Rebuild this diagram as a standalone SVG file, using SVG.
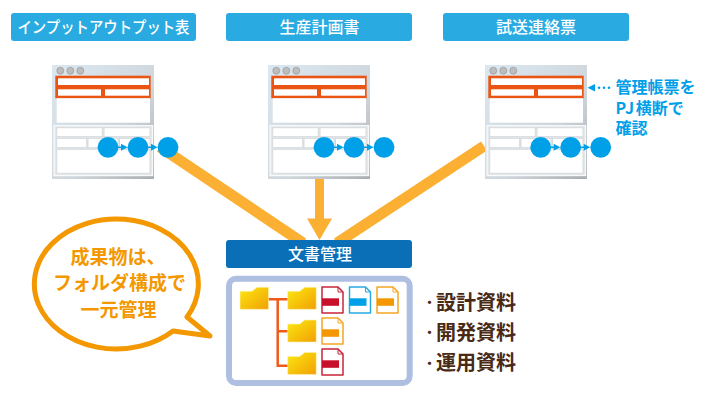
<svg xmlns="http://www.w3.org/2000/svg" xmlns:xlink="http://www.w3.org/1999/xlink" width="720" height="400" viewBox="0 0 720 400">
<style>
text{font-family:"Noto Sans CJK JP","Liberation Sans",sans-serif;font-weight:700}
.hd{fill:#fff;font-size:16px;text-anchor:middle;font-weight:500}
.blue{fill:#29abe2}
.lab{fill:#00a0e9;font-size:16px}
.or{fill:#f39800;font-size:19px;text-anchor:middle}
.blk{fill:#4a2a14;font-size:20px}
.bul{font-size:13px}
.dot{fill:#00a0e9}
.ln{fill:none;stroke:#f05a1a;stroke-width:2.500}
.w{fill:#fff}
.cell{fill:#fff;stroke:#d5dadd;stroke-width:1}
.ar{fill:none;stroke:#fbb034}
</style>
<defs>
<linearGradient id="g" x1="0" y1="0" x2="1" y2="1"><stop offset="0" stop-color="#dbe8f2"/><stop offset=".6" stop-color="#cfd6db"/><stop offset="1" stop-color="#a9adb0"/></linearGradient>
<linearGradient id="f" x1="0" y1="0" x2="1" y2="1"><stop offset="0" stop-color="#fbe90f"/><stop offset="1" stop-color="#f29f05"/></linearGradient>
<g id="win">
<rect x="0" y="0" width="102" height="114" fill="url(#g)"/>
<circle cx="8.300" cy="5.700" r="3.500" fill="#bdbdbd" stroke="#999" stroke-width=".7"/>
<circle cx="18.300" cy="5.700" r="3.500" fill="#bdbdbd" stroke="#999" stroke-width=".7"/>
<circle cx="28.300" cy="5.700" r="3.500" fill="#bdbdbd" stroke="#999" stroke-width=".7"/>
<rect x="3.300" y="10.700" width="95.400" height="22.600" fill="#ea5514"/>
<rect x="6" y="13.300" width="91" height="6.700" class="w"/>
<rect x="6" y="24.300" width="43" height="6.400" class="w"/>
<rect x="53" y="24.300" width="44" height="6.400" class="w"/>
<rect x="4.700" y="33.300" width="93.300" height="24.400" class="w"/>
<rect x="2" y="60.700" width="98.700" height="50" fill="#e4e8ea" stroke="#fff" stroke-width="1"/>
<rect x="4.700" y="62.700" width="45.600" height="9" class="cell"/>
<rect x="52" y="62.700" width="46" height="9" class="cell"/>
<rect x="4.700" y="73.300" width="30" height="9.400" class="cell"/>
<rect x="36" y="73.300" width="30" height="9.400" class="cell"/>
<rect x="67.500" y="73.300" width="30.500" height="9.400" class="cell"/>
<rect x="4.700" y="84.300" width="93.300" height="24" class="cell"/>
</g>
<g id="dots">
<path d="M10 0H14M40 0H44" stroke="#00a0e9" stroke-width="1.500"/>
<path d="M13 -3.500L19.500 0L13 3.500ZM43 -3.500L49.500 0L43 3.500Z" class="dot"/>
<circle cx="0" cy="0" r="10.400" class="dot"/>
<circle cx="30" cy="0" r="10.400" class="dot"/>
<circle cx="60" cy="0" r="10.400" class="dot"/>
</g>
<path id="fold" d="M0 4H12L17 0H28.500V22H0Z" fill="url(#f)" stroke="#fdf3b0" stroke-width=".6"/>
<g id="doc"><path d="M0 0H16L21 5V26H0Z" fill="#fff" stroke-width="1.500" stroke-linejoin="round"/><path d="M16 0V5H21" fill="none" stroke-width="1"/></g>
</defs>
<g id="connectors">
<path d="M160 147L303 243" class="ar" stroke-width="11"/>
<path d="M484 146L337 243" class="ar" stroke-width="11"/>
<path d="M319.500 179V220" class="ar" stroke-width="9"/>
<path d="M307 218.500H332L319.500 240Z" fill="#fbb034"/>
</g>
<g id="header-1"><rect x="11" y="13" width="185" height="28" rx="3" class="blue"/><text x="103.500" y="32.500" class="hd" textLength="172" lengthAdjust="spacingAndGlyphs">インプットアウトプット表</text></g>
<g id="header-2"><rect x="226" y="13" width="186" height="28" rx="3" class="blue"/><text x="319.500" y="32.500" class="hd">生産計画書</text></g>
<g id="header-3"><rect x="443" y="13" width="186" height="28" rx="3" class="blue"/><text x="536" y="32.500" class="hd">試送連絡票</text></g>
<g id="window-1"><use xlink:href="#win" href="#win" x="52" y="65"/><use xlink:href="#dots" href="#dots" x="108" y="147.300"/></g>
<g id="window-2"><use xlink:href="#win" href="#win" x="268" y="65"/><use xlink:href="#dots" href="#dots" x="324" y="147.300"/></g>
<g id="window-3"><use xlink:href="#win" href="#win" x="485" y="65"/><use xlink:href="#dots" href="#dots" x="540.700" y="147.300"/></g>
<g id="note">
<path d="M587.500 87.700L595 84V91.400Z" class="dot"/>
<circle cx="599" cy="87.700" r="1.300" class="dot"/><circle cx="604" cy="87.700" r="1.300" class="dot"/><circle cx="609" cy="87.700" r="1.300" class="dot"/>
<text class="lab"><tspan x="615.500" y="93">管理帳票を</tspan><tspan x="615.500" y="113.500" letter-spacing="1.500">PJ</tspan><tspan>横断で</tspan><tspan x="615.500" y="134">確認</tspan></text>
</g>
<g id="bubble">
<path d="M187 317A82 65 0 1 0 173 331L210 336Z" fill="#fff" stroke="#f39800" stroke-width="5" stroke-linejoin="round"/>
<text x="118" y="264" class="or">成果物は、</text>
<text x="119.500" y="290" class="or">フォルダ構成で</text>
<text x="118.500" y="317" class="or">一元管理</text>
</g>
<g id="doc-manage">
<rect x="226" y="240" width="186" height="28" rx="3" fill="#0b6fb8"/>
<text x="320" y="260" class="hd">文書管理</text>
<rect x="229" y="278.700" width="180.700" height="104.300" rx="7" fill="#fff" stroke="#aebfe2" stroke-width="6"/>
<path d="M268 299.300H288M277.700 299.300V365.700M276.500 331.300H288M276.500 365.700H288" class="ln"/>
<use xlink:href="#fold" href="#fold" x="240" y="287.300"/>
<use xlink:href="#fold" href="#fold" x="287.700" y="287.300"/>
<use xlink:href="#fold" href="#fold" x="287.700" y="320"/>
<use xlink:href="#fold" href="#fold" x="287.700" y="352.400"/>
<use xlink:href="#doc" href="#doc" x="322" y="287" stroke="#c7243a"/><rect x="322" y="298.300" width="17" height="7.500" fill="#c9102b"/>
<use xlink:href="#doc" href="#doc" x="349.500" y="287" stroke="#29abe2"/><rect x="349.500" y="298.300" width="17" height="7.500" fill="#00a0e9"/>
<use xlink:href="#doc" href="#doc" x="377" y="287" stroke="#f5a623"/><rect x="377" y="298.300" width="17" height="7.500" fill="#f39800"/>
<use xlink:href="#doc" href="#doc" x="322" y="318" stroke="#f5a623"/><rect x="322" y="329.300" width="17" height="7.500" fill="#f39800"/>
<use xlink:href="#doc" href="#doc" x="322" y="349" stroke="#c7243a"/><rect x="322" y="360.300" width="17" height="7.500" fill="#c9102b"/>
</g>
<g id="list">
<text x="423" y="309.500" class="blk"><tspan class="bul" dy="-2.500">・</tspan><tspan dy="2.500">設計資料</tspan></text>
<text x="423" y="339.500" class="blk"><tspan class="bul" dy="-2.500">・</tspan><tspan dy="2.500">開発資料</tspan></text>
<text x="423" y="370" class="blk"><tspan class="bul" dy="-2.500">・</tspan><tspan dy="2.500">運用資料</tspan></text>
</g>
</svg>
